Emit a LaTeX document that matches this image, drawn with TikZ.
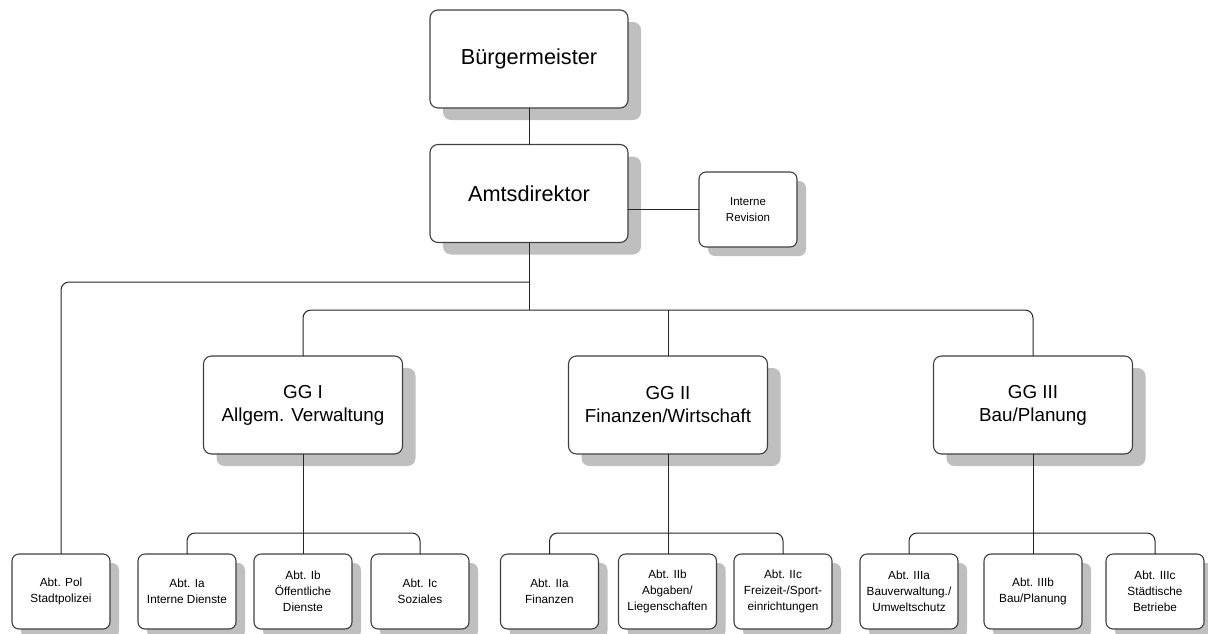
\documentclass[tikz,border=0pt]{standalone}
\usepackage{fontspec}
\setmainfont{Liberation Sans}
\usetikzlibrary{shadows}

\begin{document}
\begin{tikzpicture}[x=1pt,y=-1pt,
  box/.style = {rectangle,rounded corners=8pt,draw=black!75,line width=1.1pt,fill=white,align=center,outer sep=0mm},
  bigshadow/.style = {drop shadow={shadow xshift=13pt,shadow yshift=-12pt,fill=black!25,opacity=1}},
  big/.style = {box,bigshadow,minimum width=198pt,minimum height=98pt,font=\fontsize{21.7}{26}\selectfont},
  mid/.style = {box,bigshadow,minimum width=199pt,minimum height=98pt,font=\fontsize{18.8}{23}\selectfont},
  small/.style = {box,rounded corners=7pt,minimum width=98pt,minimum height=75pt,font=\fontsize{11.8}{16}\selectfont,
     drop shadow={shadow xshift=9pt,shadow yshift=-9pt,fill=black!25,opacity=1}},
  link/.style = {draw=black!85,line width=1pt}]
\useasboundingbox (0,0) rectangle (1208,633);

% Leitung
\node[big] (bm) at (529,59) {Bürgermeister};
\node[big] (ad) at (529,193.5) {Amtsdirektor};
\node[small,font=\fontsize{11.5}{16}\selectfont] (ir) at (748,209.5) {Interne\\Revision};

% Geschaeftsbereiche
\node[mid] (g1) at (303,405) {GG I\\Allgem. Verwaltung};
\node[mid] (g2) at (668,405) {GG II\\Finanzen/Wirtschaft};
\node[mid] (g3) at (1033,405) {GG III\\Bau/Planung};

% Abteilungen
\foreach \name/\x/\txt in {pol/61/{Abt. Pol\\Stadtpolizei},
    ia/187/{Abt. Ia\\Interne Dienste}, ib/303/{Abt. Ib\\Öffentliche\\Dienste}, ic/420/{Abt. Ic\\Soziales},
    iia/549.5/{Abt. IIa\\Finanzen}, iib/667.5/{Abt. IIb\\Abgaben/\\Liegenschaften}, iic/783/{Abt. IIc\\Freizeit-/Sport-\\einrichtungen},
    iiia/909/{Abt. IIIa\\Bauverwaltung./\\Umweltschutz}, iiib/1033/{Abt. IIIb\\Bau/Planung}, iiic/1155/{Abt. IIIc\\Städtische\\Betriebe}}
    \node[small] (\name) at (\x,591.5) {\txt};

\coordinate (j1) at (529,282);
\coordinate (j2) at (529,310);
\coordinate (b1) at (303,533);
\coordinate (b2) at (668,533);
\coordinate (b3) at (1033,533);

\draw[link] (bm.south) -- (ad.north);
\draw[link] (ir.west) -- (ir.west -| ad.east);
\draw[link] (ad.south) -- (j2);
\draw[link,rounded corners=8pt] (j1) -| (pol.north);
\draw[link,rounded corners=8pt] (g1.north) |- (j2) -| (g3.north);
\draw[link] (g2.north) -- (g2.north |- j2);

\draw[link] (g1.south) -- (g1.south |- ib.north);
\draw[link,rounded corners=8pt] (ia.north) |- (b1) -| (ic.north);
\draw[link] (g2.south) -- (g2.south |- iib.north);
\draw[link,rounded corners=8pt] (iia.north) |- (b2) -| (iic.north);
\draw[link] (g3.south) -- (iiib.north);
\draw[link,rounded corners=8pt] (iiia.north) |- (b3) -| (iiic.north);
\end{tikzpicture}
\end{document}
